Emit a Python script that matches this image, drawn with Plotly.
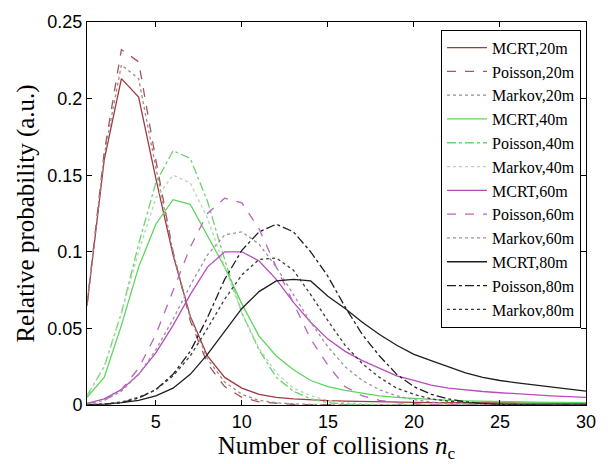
import plotly.graph_objects as go

n_c = list(range(1, 31))

mcrt_20 = [0.065, 0.16, 0.213, 0.201, 0.148, 0.098, 0.058, 0.032, 0.018, 0.011,
           0.007, 0.005, 0.004, 0.0033, 0.0028, 0.0025, 0.0022, 0.002, 0.0018, 0.0017,
           0.0016, 0.0015, 0.0014, 0.0013, 0.0012, 0.0012, 0.0011, 0.0011, 0.001, 0.001]
poisson_20 = [0.065, 0.165, 0.232, 0.224, 0.16, 0.1, 0.055, 0.027, 0.012, 0.005,
              0.002, 0.001, 0.0004, 0.0002, 0.0001, 0, 0, 0, 0, 0,
              0, 0, 0, 0, 0, 0, 0, 0, 0, 0]
markov_20 = [0.065, 0.163, 0.222, 0.213, 0.155, 0.1, 0.057, 0.03, 0.015, 0.007,
             0.003, 0.0015, 0.0007, 0.0003, 0.0001, 0, 0, 0, 0, 0,
             0, 0, 0, 0, 0, 0, 0, 0, 0, 0]

mcrt_40 = [0.005, 0.018, 0.052, 0.09, 0.118, 0.134, 0.131, 0.11, 0.09, 0.066,
           0.045, 0.032, 0.023, 0.016, 0.012, 0.0095, 0.0075, 0.006, 0.005, 0.0042,
           0.0036, 0.003, 0.0027, 0.0024, 0.0022, 0.002, 0.0018, 0.0017, 0.0016, 0.0015]
poisson_40 = [0.006, 0.025, 0.06, 0.105, 0.145, 0.166, 0.161, 0.133, 0.095, 0.06,
              0.036, 0.018, 0.009, 0.004, 0.0015, 0.0006, 0.0002, 0, 0, 0,
              0, 0, 0, 0, 0, 0, 0, 0, 0, 0]
markov_40 = [0.006, 0.025, 0.06, 0.1, 0.135, 0.15, 0.145, 0.122, 0.09, 0.06,
             0.037, 0.021, 0.011, 0.006, 0.003, 0.0015, 0.0007, 0.0003, 0.0001, 0,
             0, 0, 0, 0, 0, 0, 0, 0, 0, 0]

mcrt_60 = [0.001, 0.004, 0.01, 0.02, 0.034, 0.052, 0.072, 0.09, 0.1, 0.1,
           0.094, 0.082, 0.067, 0.054, 0.043, 0.035, 0.029, 0.024, 0.019, 0.016,
           0.013, 0.011, 0.0098, 0.0088, 0.008, 0.0072, 0.0066, 0.006, 0.0055, 0.005]
poisson_60 = [0.001, 0.003, 0.01, 0.024, 0.046, 0.074, 0.103, 0.125, 0.135, 0.132,
              0.115, 0.09, 0.067, 0.043, 0.026, 0.012, 0.006, 0.003, 0.0015, 0.0007,
              0.0003, 0.0001, 0, 0, 0, 0, 0, 0, 0, 0]
markov_60 = [0.001, 0.003, 0.009, 0.02, 0.036, 0.056, 0.078, 0.098, 0.111, 0.113,
             0.105, 0.09, 0.072, 0.054, 0.038, 0.025, 0.016, 0.01, 0.006, 0.0035,
             0.002, 0.001, 0.0005, 0.0002, 0.0001, 0, 0, 0, 0, 0]

mcrt_80 = [0.0002, 0.0006, 0.0015, 0.003, 0.006, 0.011, 0.02, 0.033, 0.048, 0.063,
           0.074, 0.081, 0.082, 0.081, 0.071, 0.063, 0.054, 0.046, 0.039, 0.033,
           0.029, 0.025, 0.021, 0.018, 0.016, 0.0145, 0.013, 0.0115, 0.0102, 0.009]
poisson_80 = [0.0001, 0.0005, 0.0015, 0.0045, 0.01, 0.02, 0.035, 0.057, 0.082, 0.101,
              0.113, 0.118, 0.113, 0.1, 0.084, 0.064, 0.046, 0.032, 0.02, 0.012,
              0.007, 0.004, 0.002, 0.001, 0.0005, 0.0002, 0.0001, 0, 0, 0]
markov_80 = [0.0002, 0.0006, 0.002, 0.005, 0.01, 0.019, 0.032, 0.05, 0.069, 0.085,
             0.095, 0.096, 0.088, 0.072, 0.055, 0.039, 0.027, 0.018, 0.011, 0.007,
             0.004, 0.0025, 0.0015, 0.001, 0.0005, 0.0003, 0.0002, 0.0001, 0, 0]

series = [
    ("MCRT,20m", mcrt_20, "#a23a40", "solid"),
    ("Poisson,20m", poisson_20, "#a5575c", "dash"),
    ("Markov,20m", markov_20, "#9a8a8c", "dot"),
    ("MCRT,40m", mcrt_40, "#5cd65c", "solid"),
    ("Poisson,40m", poisson_40, "#70d070", "dashdot"),
    ("Markov,40m", markov_40, "#b0d8b0", "dot"),
    ("MCRT,60m", mcrt_60, "#b94cbf", "solid"),
    ("Poisson,60m", poisson_60, "#b865bb", "dash"),
    ("Markov,60m", markov_60, "#a08ea2", "dot"),
    ("MCRT,80m", mcrt_80, "#1e1e1e", "solid"),
    ("Poisson,80m", poisson_80, "#1e1e1e", "dashdot"),
    ("Markov,80m", markov_80, "#3a3a3a", "dot"),
]

fig = go.Figure()
for name, ys, color, dash in series:
    fig.add_trace(go.Scatter(
        x=n_c, y=ys, mode="lines", name=name,
        line=dict(color=color, dash=dash, width=1.3),
    ))

fig.update_layout(
    width=608, height=464,
    margin=dict(l=87, r=20, t=14, b=59),
    paper_bgcolor="white", plot_bgcolor="white",
    showlegend=True,
    legend=dict(
        x=0.99, y=0.98, xanchor="right", yanchor="top",
        bgcolor="white", bordercolor="black", borderwidth=1,
        font=dict(family="Liberation Serif", size=16, color="black"),
        itemwidth=40, tracegroupgap=0,
    ),
)
fig.update_xaxes(
    range=[1, 30], tickvals=[5, 10, 15, 20, 25, 30],
    ticks="inside", ticklen=5, tickcolor="black",
    showline=True, linecolor="black", linewidth=1, mirror="ticks",
    showgrid=False, zeroline=False,
    tickfont=dict(family="Liberation Sans", size=18, color="black"),
    title=dict(text="Number of collisions <i>n</i><sub>c</sub>",
               font=dict(family="Liberation Serif", size=25, color="black"),
               standoff=3),
)
fig.update_yaxes(
    range=[0, 0.25], tickvals=[0, 0.05, 0.1, 0.15, 0.2, 0.25],
    ticktext=["0", "0.05", "0.1", "0.15", "0.2", "0.25"],
    ticks="inside", ticklen=5, tickcolor="black",
    showline=True, linecolor="black", linewidth=1, mirror="ticks",
    showgrid=False, zeroline=False,
    tickfont=dict(family="Liberation Sans", size=18, color="black"),
    title=dict(text="Relative probability (a.u.)",
               font=dict(family="Liberation Serif", size=25, color="black"),
               standoff=5),
)

fig.write_html("out.html")
